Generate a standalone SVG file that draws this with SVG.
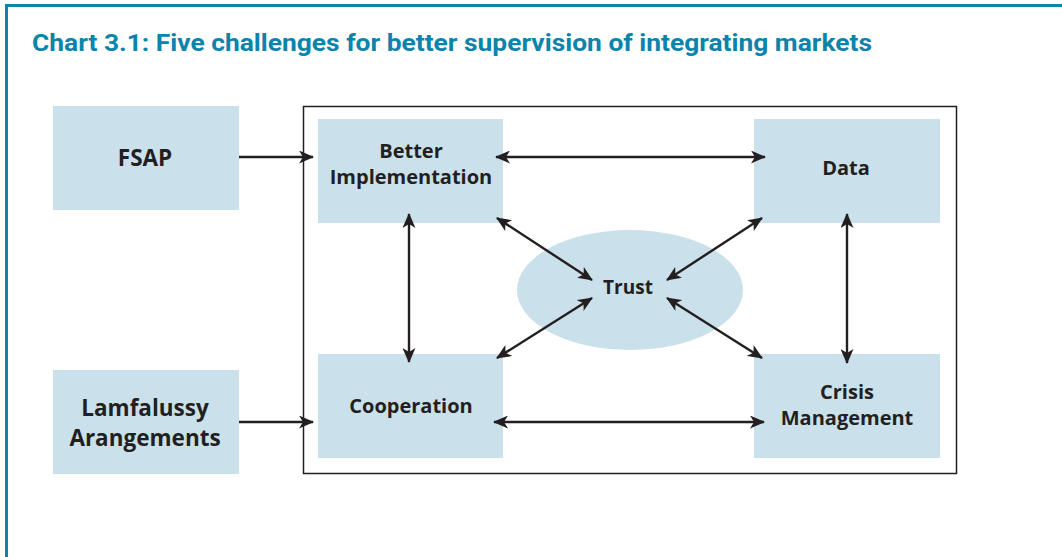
<svg xmlns="http://www.w3.org/2000/svg" width="1062" height="557" viewBox="0 0 1062 557">
<defs>
<style>
.box{fill:#cae0eb}
.lbl{font-family:"Open Sans","Noto Sans",sans-serif;font-weight:700;font-size:20px;fill:#231f20;text-anchor:middle}
.big{font-size:22.5px}
.con{stroke:#231f20;stroke-width:2.4;fill:none;marker-end:url(#ah)}
.bi{marker-start:url(#ahs)}
</style>
<marker id="ah" viewBox="0 0 15 13" refX="14" refY="6.5" markerWidth="15" markerHeight="13" markerUnits="userSpaceOnUse" orient="auto">
<path d="M0,0 L15,6.5 L0,13 L4,6.5 Z" fill="#231f20"/>
</marker>
<marker id="ahs" viewBox="0 0 15 13" refX="1" refY="6.5" markerWidth="15" markerHeight="13" markerUnits="userSpaceOnUse" orient="auto">
<path d="M15,0 L0,6.5 L15,13 L11,6.5 Z" fill="#231f20"/>
</marker>
</defs>
<rect width="1062" height="557" fill="#fff"/>
<path d="M6.5,557 V5.5 H1062" fill="none" stroke="#0a86ad" stroke-width="3"/>
<text x="32" y="51" font-family="Roboto,'Open Sans',sans-serif" font-weight="700" font-size="23" fill="#0a84ab" textLength="840" lengthAdjust="spacingAndGlyphs">Chart 3.1:  Five challenges for better supervision of integrating markets</text>
<rect id="frame" x="303.5" y="106.5" width="653" height="367" fill="none" stroke="#231f20" stroke-width="1.5"/>
<g id="fsap"><rect class="box" x="53" y="106" width="186" height="104"/><text class="lbl big" x="145" y="166">FSAP</text></g>
<g id="lamfalussy"><rect class="box" x="53" y="370" width="186" height="104"/><text class="lbl big" x="145" y="416">Lamfalussy</text><text class="lbl big" x="145" y="446">Arangements</text></g>
<g id="better"><rect class="box" x="318" y="119" width="185" height="104"/><text class="lbl" x="411" y="158">Better</text><text class="lbl" x="411" y="184">Implementation</text></g>
<g id="data"><rect class="box" x="754" y="119" width="186" height="104"/><text class="lbl" x="846" y="175">Data</text></g>
<g id="cooperation"><rect class="box" x="318" y="354" width="185" height="104"/><text class="lbl" x="411" y="413">Cooperation</text></g>
<g id="crisis"><rect class="box" x="754" y="354" width="186" height="104"/><text class="lbl" x="847" y="399">Crisis</text><text class="lbl" x="847" y="425">Management</text></g>
<g id="trust"><ellipse cx="630" cy="290" rx="113" ry="60" fill="#cae0eb"/><text class="lbl" x="628" y="294" style="font-size:19px">Trust</text></g>
<g id="connectors">
<line class="con" x1="239" y1="157" x2="313" y2="157"/>
<line class="con" x1="239" y1="422" x2="313" y2="422"/>
<line class="con bi" x1="496" y1="157" x2="765" y2="157"/>
<line class="con bi" x1="494" y1="422" x2="764" y2="422"/>
<line class="con bi" x1="409" y1="214" x2="409" y2="362"/>
<line class="con bi" x1="847" y1="214" x2="847" y2="363"/>
<line class="con bi" x1="497" y1="218" x2="592" y2="280"/>
<line class="con bi" x1="762" y1="218" x2="667" y2="280"/>
<line class="con bi" x1="497" y1="358" x2="592" y2="298"/>
<line class="con bi" x1="762" y1="358" x2="667" y2="298"/>
</g>
</svg>
